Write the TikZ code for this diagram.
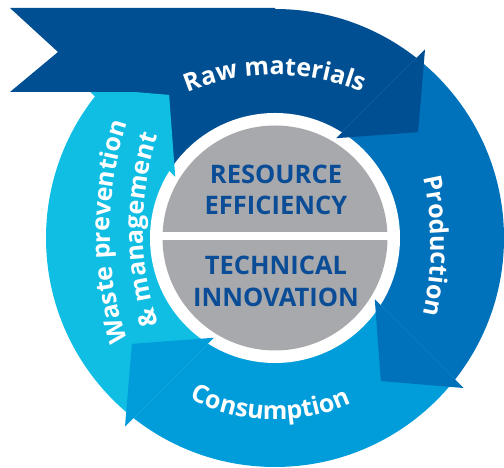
\documentclass[tikz,border=0pt]{standalone}
\usepackage{fontspec}
\newfontfamily\osb{Open Sans}
\usetikzlibrary{calc,decorations.text}
\definecolor{rawc}{RGB}{0,79,147}
\definecolor{prodc}{RGB}{0,113,187}
\definecolor{consc}{RGB}{0,157,218}
\definecolor{wastec}{RGB}{16,190,228}
\definecolor{grayc}{RGB}{167,169,172}
\definecolor{textc}{RGB}{10,76,150}
\newcommand\lab{\osb\bfseries\fontsize{25}{25}\selectfont}
\newcommand\ctr{\osb\bfseries\fontsize{25.5}{25.5}\selectfont}
\tikzset{
  ctext/.style={anchor=base, inner sep=0pt, text=textc, font=\ctr},
}
\begin{document}
\begin{tikzpicture}[x=1pt,y=1pt]
\useasboundingbox (0,0) rectangle (504,468);
\coordinate (C) at (275,230);
% arrow heads: inner barb, outer barb, tip
\coordinate (Ri) at ($(C)+(58.5:117)$);
\coordinate (Ro) at ($(C)+(51.5:241)$);
\coordinate (Rt) at ($(C)+(36.5:178)$);
\coordinate (Pi) at ($(C)+(-31.5:117)$);
\coordinate (Po) at ($(C)+(-38.5:241)$);
\coordinate (Pt) at ($(C)+(-53.5:178)$);
\coordinate (Ki) at ($(C)+(-121.5:117)$);
\coordinate (Ko) at ($(C)+(-128.5:241)$);
\coordinate (Kt) at ($(C)+(-143.5:178)$);
\coordinate (Wi) at ($(C)+(148.5:117)$);
\coordinate (Wo) at ($(C)+(141.5:241)$);
\coordinate (Wt) at ($(C)+(126.5:178)$);
\coordinate (Re) at ($(Ri)!2.6!(Ro)$);
\coordinate (Pe) at ($(Pi)!2.6!(Po)$);
\coordinate (Ke) at ($(Ki)!2.6!(Ko)$);
\coordinate (We) at ($(Wi)!2.6!(Wo)$);
% bands
\begin{scope}
  \clip (C) circle (229);
  \fill[rawc] (Wi) -- (Wo) -- (We) -- (Re) -- (Ro) -- (Ri) -- cycle;
  \fill[prodc] (Ri) -- (Ro) -- (Re) -- (Pe) -- (Po) -- (Pi) -- cycle;
  \fill[consc] (Pi) -- (Po) -- (Pe) -- (Ke) -- (Ko) -- (Ki) -- cycle;
  \fill[wastec] (Ki) -- (Ko) -- (Ke) -- (We) -- (Wo) -- (Wi) -- cycle;
\end{scope}
\fill[white] (C) circle (125);
% heads
\fill[rawc] (Ri) -- (Rt) -- (Ro) -- cycle;
\fill[prodc] (Pi) -- (Pt) -- (Po) -- cycle;
\fill[consc] (Ki) -- (Kt) -- (Ko) -- cycle;
\fill[wastec] (Wi) -- (Wt) -- (Wo) -- cycle;
% ribbon tail of raw materials
\fill[rawc] (10,460) -- (58,416) -- (10,376) -- (275,376) -- (275,460) -- cycle;
% centre disk
\begin{scope}
  \clip (0,236) rectangle (504,468);
  \fill[grayc] (C) circle (112.5);
\end{scope}
\begin{scope}
  \clip (0,0) rectangle (504,227);
  \fill[grayc] (C) circle (112.5);
\end{scope}
\node[ctext] (t1) at (276,284.5) {RESOURCE};
\node[ctext] (t2) at (276,253) {EFFICIENCY};
\node[ctext] (t3) at (276,193) {TECHNICAL};
\node[ctext] (t4) at (276,161) {INNOVATION};
% curved labels
\path[decorate, decoration={text along path, text align=center, text color=white,
  text={|\lab|Raw materials}}]
  ([shift={(125:230)}]275,163) arc[start angle=125, end angle=55, radius=230];
\path[decorate, decoration={text along path, text align=center, text color=white,
  text={|\lab|Production}}]
  ([shift={(25:300)}]131,222) arc[start angle=25, end angle=-25, radius=300];
\path[decorate, decoration={text along path, text align=center, text color=white,
  text={|\lab|Consumption}}]
  ([shift={(-131.6:182)}]275,230) arc[start angle=-131.6, end angle=-51.6, radius=182];
\path[decorate, decoration={text along path, text align=center, text color=white,
  text={|\lab|Waste prevention}}]
  ([shift={(205:350)}]460,236) arc[start angle=205, end angle=155, radius=350];
\path[decorate, decoration={text along path, text align=center, text color=white,
  text={|\lab|{\&} management}}]
  ([shift={(205:300)}]443,238) arc[start angle=205, end angle=155, radius=300];
\end{tikzpicture}
\end{document}
